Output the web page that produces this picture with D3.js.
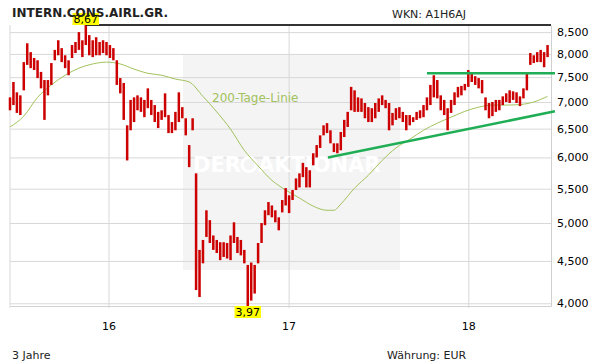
<!DOCTYPE html>
<html>
<head>
<meta charset="utf-8">
<script src="https://cdn.jsdelivr.net/npm/d3@7"></script>
<style>
  body { margin: 0; background: #fff; }
  text { font-family: "DejaVu Sans", Verdana, sans-serif; }
</style>
</head>
<body>
<div id="chart"></div>
<script>
// weekly high / low, first week starts 15.06.2015
const startDate = new Date(2015, 5, 15);
const endDate = new Date(2018, 5, 18);
const yearTicks = [new Date(2016, 0, 1), new Date(2017, 0, 1), new Date(2018, 0, 1)];
const priceTicks = [4.0, 4.5, 5.0, 5.5, 6.0, 6.5, 7.0, 7.5, 8.0, 8.5];

const weekHigh = [
  7.09, 7.40, 7.19, 7.13, 7.82, 8.24, 8.04, 7.91, 7.86, 7.61,
  7.44, 7.44, 7.80, 8.09, 8.31, 8.13, 7.97, 7.86, 8.20, 8.27,
  8.50, 8.31, 8.67, 8.43, 8.31, 8.38, 8.27, 8.31, 8.27, 8.20,
  8.13, 7.86, 7.48, 7.38, 6.56, 7.04, 7.09, 7.13, 7.09, 7.04,
  7.27, 7.04, 6.94, 6.81, 6.84, 7.17, 6.75, 6.62, 6.81, 7.19,
  6.90, 6.69, 6.21, 6.69, 5.74, 4.64, 4.77, 5.18, 5.04, 4.83,
  4.77, 4.74, 4.74, 4.73, 4.83, 5.01, 4.81, 4.77, 4.64, 4.45,
  4.48, 4.45, 4.73, 5.00, 5.18, 5.30, 5.25, 5.18, 5.08, 5.33,
  5.51, 5.40, 5.48, 5.66, 5.74, 5.91, 5.84, 5.79, 6.07, 6.21,
  6.38, 6.56, 6.60, 6.47, 6.24, 6.24, 6.44, 6.66, 6.81, 7.30,
  7.23, 7.09, 7.07, 6.98, 6.90, 6.88, 6.98, 7.07, 7.13, 7.04,
  6.98, 6.79, 6.88, 6.90, 6.81, 6.75, 6.75, 6.71, 6.81, 6.84,
  6.94, 7.09, 7.34, 7.54, 7.44, 7.13, 7.04, 6.88, 7.04, 7.19,
  7.30, 7.32, 7.36, 7.65, 7.58, 7.52, 7.48, 7.44, 7.09, 6.98,
  7.00, 7.04, 7.04, 7.11, 7.17, 7.23, 7.21, 7.19, 7.11, 7.27,
  7.58, 8.02, 7.97, 8.04, 8.09, 8.04, 8.20
];
const weekLow = [
  6.84, 6.94, 6.79, 6.75, 7.23, 7.76, 7.69, 7.65, 7.48, 7.27,
  6.66, 7.13, 7.34, 7.86, 7.97, 7.82, 7.69, 7.54, 7.91, 8.02,
  8.09, 7.93, 8.20, 7.97, 7.93, 7.97, 7.97, 8.02, 7.97, 7.91,
  7.86, 7.34, 7.17, 6.66, 5.95, 6.47, 6.62, 6.84, 6.81, 6.71,
  6.88, 6.75, 6.62, 6.51, 6.66, 6.71, 6.42, 6.42, 6.47, 6.62,
  6.69, 6.38, 5.84, 6.47, 4.15, 4.07, 4.47, 4.81, 4.73, 4.64,
  4.60, 4.51, 4.55, 4.53, 4.51, 4.73, 4.60, 4.57, 4.47, 3.97,
  4.03, 4.11, 4.47, 4.73, 4.97, 5.11, 5.08, 5.01, 4.90, 5.15,
  5.25, 5.14, 5.33, 5.48, 5.52, 5.68, 5.52, 5.52, 5.87, 6.00,
  6.16, 6.38, 6.42, 6.24, 6.09, 6.07, 6.12, 6.35, 6.53, 6.84,
  6.81, 6.81, 6.81, 6.69, 6.62, 6.62, 6.69, 6.81, 6.94, 6.88,
  6.47, 6.56, 6.66, 6.69, 6.62, 6.47, 6.56, 6.62, 6.66, 6.69,
  6.71, 6.84, 6.94, 7.09, 7.07, 6.84, 6.75, 6.47, 6.79, 6.94,
  7.09, 7.13, 7.23, 7.30, 7.40, 7.34, 7.27, 7.17, 6.84, 6.69,
  6.73, 6.81, 6.84, 6.94, 7.00, 6.98, 7.04, 6.98, 6.92, 7.07,
  7.23, 7.76, 7.80, 7.82, 7.82, 7.71, 7.93
];

// 200-Tage-Linie, sampled by week number
const maWeek = [0, 4, 8, 12, 16, 20, 24, 28, 32, 36, 40, 44, 48, 52, 56, 60, 64, 68, 72, 76,
  80, 84, 88, 92, 94, 96, 100, 104, 108, 112, 116, 120, 124, 128, 132, 136, 140, 144, 148, 152, 156];
const maValue = [6.53, 6.73, 7.09, 7.34, 7.54, 7.69, 7.78, 7.82, 7.78, 7.67, 7.58, 7.54, 7.46, 7.40, 7.11,
  6.81, 6.49, 6.12, 5.86, 5.63, 5.48, 5.36, 5.24, 5.18, 5.18, 5.27, 5.51, 5.71, 5.95, 6.16,
  6.31, 6.47, 6.60, 6.71, 6.82, 6.90, 6.94, 6.94, 6.95, 7.00, 7.11];

// trend lines
const resistanceDates = [new Date(2017, 9, 9), new Date(2018, 5, 26)];
const resistanceValues = [7.58, 7.58];
const supportDates = [new Date(2017, 2, 22), new Date(2018, 5, 26)];
const supportValues = [6.00, 6.82];

const width = 611, height = 364;
const plot = { left: 10, right: 551, top: 25, bottom: 306 };

const weekDate = (i) => d3.timeDay.offset(startDate, 7 * i);
const fmtTick = (d) => d3.format('.3f')(d).replace('.', ',');
const fmtMark = (d) => d3.format('.2f')(d).replace('.', ',');

const data = weekHigh.map((h, i) => ({ date: weekDate(i), high: h, low: weekLow[i] }));

const x = d3.scaleTime()
  .domain([startDate, endDate])
  .range([plot.left, plot.right]);

const y = d3.scaleLog()
  .domain([d3.min(weekLow), d3.max(weekHigh)])
  .range([plot.bottom, plot.top]);

const svg = d3.select('#chart').append('svg')
  .attr('width', width)
  .attr('height', height);

// watermark panel
svg.append('rect')
  .attr('x', 183).attr('y', 54)
  .attr('width', 217).attr('height', 216)
  .attr('fill', '#f4f4f4');

// y axis + horizontal grid
const yAxis = svg.append('g')
  .attr('transform', 'translate(' + plot.right + ',0)')
  .call(d3.axisRight(y)
    .tickValues(priceTicks)
    .tickSize(-(plot.right - plot.left))
    .tickSizeOuter(0)
    .tickPadding(6)
    .tickFormat(fmtTick));

// x axis + vertical grid
const xAxis = svg.append('g')
  .attr('transform', 'translate(0,' + plot.bottom + ')')
  .call(d3.axisBottom(x)
    .tickValues(yearTicks)
    .tickSize(-(plot.bottom - plot.top))
    .tickSizeOuter(0)
    .tickPadding(16)
    .tickFormat(d3.timeFormat('%y')));

[yAxis, xAxis].forEach((g) => {
  g.selectAll('line').attr('stroke', '#d8d8d8');
  g.select('.domain').attr('stroke', '#d0d0d0');
  g.selectAll('text')
    .attr('fill', '#000')
    .style('font-size', '11px')
    .style('font-family', '"DejaVu Sans", Verdana, sans-serif');
});

xAxis.selectAll('.tick line').attr('y2', 2).attr('y1', -(plot.bottom - plot.top));

svg.append('line')
  .attr('x1', plot.left).attr('x2', plot.left)
  .attr('y1', plot.top).attr('y2', plot.bottom + 2)
  .attr('stroke', '#d8d8d8');

// watermark text
svg.append('text')
  .attr('x', 193).attr('y', 172)
  .attr('fill', '#fff')
  .style('font-size', '21px')
  .style('font-weight', 'bold')
  .text('DER');
svg.append('circle')
  .attr('cx', 249).attr('cy', 164.5).attr('r', 7)
  .attr('fill', 'none').attr('stroke', '#fff').attr('stroke-width', 3);
svg.append('text')
  .attr('x', 258).attr('y', 172)
  .attr('fill', '#fff')
  .style('font-size', '21px')
  .style('font-weight', 'bold')
  .text('AKTIONÄR');

// 200-Tage-Linie
const ma = maWeek.map((w, i) => ({ date: weekDate(w), value: maValue[i] }));
svg.append('path')
  .datum(ma)
  .attr('fill', 'none')
  .attr('stroke', '#a2c25c')
  .attr('stroke-width', 1)
  .attr('d', d3.line()
    .x((d) => x(d.date))
    .y((d) => y(d.value))
    .curve(d3.curveMonotoneX));

svg.append('text')
  .attr('x', 212).attr('y', 102)
  .attr('fill', '#a2c25c')
  .style('font-size', '12px')
  .text('200-Tage-Linie');

// price bars
svg.append('g').selectAll('rect')
  .data(data)
  .enter().append('rect')
  .attr('x', (d) => x(d.date) - 1.25)
  .attr('width', 2.5)
  .attr('y', (d) => y(d.high))
  .attr('height', (d) => Math.max(2, y(d.low) - y(d.high)))
  .attr('fill', '#cc0000');

// trend lines
const trend = d3.line()
  .x((d) => x(d[0]))
  .y((d) => y(d[1]));

[[resistanceDates, resistanceValues], [supportDates, supportValues]].forEach(([ds, vs]) => {
  svg.append('path')
    .datum(ds.map((d, i) => [d, vs[i]]))
    .attr('fill', 'none')
    .attr('stroke', '#1fae55')
    .attr('stroke-width', 2.5)
    .attr('d', trend);
});

// high / low markers
const maxVal = d3.max(weekHigh);
const minVal = d3.min(weekLow);
const maxDate = data[weekHigh.indexOf(maxVal)].date;
const minDate = data[weekLow.indexOf(minVal)].date;

svg.append('line')
  .attr('x1', x(maxDate)).attr('x2', plot.right)
  .attr('y1', y(maxVal)).attr('y2', y(maxVal))
  .attr('stroke', '#333')
  .attr('stroke-width', 2);

const marker = (cx, top, val) => {
  const t = svg.append('text')
    .attr('x', cx).attr('y', top + 10)
    .attr('text-anchor', 'middle')
    .attr('fill', '#000')
    .style('font-size', '11px')
    .text(fmtMark(val));
  const w = t.node().getComputedTextLength() + 2;
  svg.insert('rect', function () { return t.node(); })
    .attr('x', cx - w / 2).attr('y', top)
    .attr('width', w).attr('height', 12)
    .attr('fill', '#ffff00');
};
marker(x(maxDate), y(maxVal) - 12, maxVal);
marker(x(minDate), y(minVal), minVal);

// header / footer
svg.append('text')
  .attr('x', 12).attr('y', 17)
  .attr('fill', '#222')
  .style('font-size', '12px')
  .style('font-weight', 'bold')
  .text('INTERN.CONS.AIRL.GR.');

svg.append('text')
  .attr('x', 392).attr('y', 18)
  .attr('fill', '#222')
  .style('font-size', '11px')
  .text('WKN: A1H6AJ');

svg.append('text')
  .attr('x', 12).attr('y', 358.5)
  .attr('fill', '#222')
  .style('font-size', '11px')
  .text('3 Jahre');

svg.append('text')
  .attr('x', 387).attr('y', 358.5)
  .attr('fill', '#222')
  .style('font-size', '11px')
  .text('Währung: EUR');
</script>
</body>
</html>
